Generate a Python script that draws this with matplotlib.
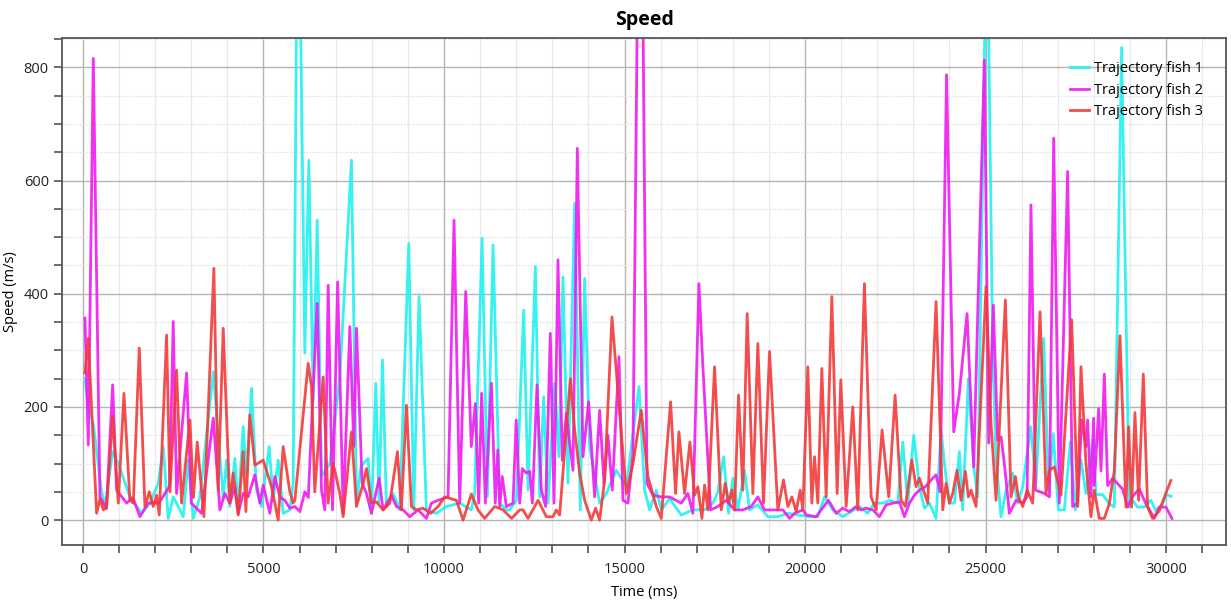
import matplotlib
matplotlib.use("Agg")
import matplotlib.pyplot as plt
from matplotlib.ticker import MultipleLocator

plt.rcParams['font.family'] = ['Open Sans', 'DejaVu Sans']

# fish 1 (cyan)
t1 = [55, 147, 286, 507, 609, 822, 978, 1300, 1624, 1855, 2085, 2223, 2362, 2500, 2593, 2777, 2915, 3054, 3239, 3608,
      3792, 3884, 3977, 4069, 4207, 4300, 4438, 4530, 4669, 4807, 4946, 5157, 5268, 5407, 5545, 5730, 5822, 5914, 6025,
      6145, 6256, 6376, 6487, 6607, 6838, 7114, 7437, 7576, 7700, 7897, 7991, 8110, 8202, 8295, 8405, 8590, 8774, 9024,
      9163, 9309, 9512, 9789, 10066, 10435, 10757, 10849, 11054, 11201, 11358, 11543, 11727, 11819, 12004, 12207,
      12327, 12530, 12650, 12760, 12880, 13065, 13185, 13296, 13434, 13619, 13775, 13895, 14034, 14311, 14495, 14772,
      15049, 15400, 15557, 15695, 15880, 16018, 16248, 16571, 16894, 17217, 17448, 17586, 17743, 17882, 18001, 18140,
      18324, 18463, 18693, 18970, 19247, 19524, 19801, 20124, 20354, 20539, 20770, 21046, 21277, 21507, 21738, 21922,
      22153, 22338, 22568, 22707, 22845, 23012, 23168, 23307, 23445, 23629, 23768, 23860, 24000, 24137, 24275, 24367,
      24525, 24672, 24783, 24986, 25079, 25198, 25290, 25429, 25568, 25752, 25891, 26030, 26249, 26395, 26609, 26748,
      26877, 27016, 27182, 27348, 27486, 27643, 27781, 27966, 28060, 28243, 28428, 28566, 28768, 28981, 29073, 29211,
      29396, 29581, 29719, 29904, 30015, 30135]
v1 = [250, 200, 171, 53, 24, 121, 100, 41, 12, 30, 65, 130, 3, 41, 30, 6, 106, 3, 41, 262,
      112, 41, 106, 24, 109, 18, 165, 83, 233, 53, 24, 130, 35, 106, 12, 18, 65, 900, 900,
      295, 636, 212, 530, 77, 100, 253, 636, 30, 95, 109, 12, 242, 30, 283, 24, 47, 18, 489,
      18, 395, 18, 12, 24, 30, 18, 47, 498, 41, 486, 30, 18, 18, 35, 371,
      53, 448, 41, 218, 30, 242, 112, 430, 65, 560, 18, 427, 130, 30, 47, 88,
      59, 236, 53, 18, 53, 18, 38, 9, 18, 18, 30, 50, 112, 12, 74, 18,
      88, 18, 27, 6, 6, 12, 9, 6, 6, 41, 18, 6, 15, 24, 12, 30,
      30, 35, 30, 138, 30, 150, 59, 21, 30, 3, 159, 100, 30, 30, 121, 18,
      250, 94, 41, 900, 900, 300, 106, 6, 53, 83, 30, 59, 165, 65, 321, 53,
      153, 18, 18, 138, 18, 106, 47, 141, 45, 45, 29, 23, 835, 23, 35, 23,
      23, 35, 16, 29, 45, 42]

# fish 2 (magenta)
t2 = [55, 147, 286, 470, 650, 822, 932, 1209, 1380, 1578, 1800, 2100, 2400, 2500, 2593, 2870, 3000, 3285, 3608,
      3792, 3931, 4069, 4207, 4300, 4438, 4576, 4761, 4900, 4992, 5176, 5315, 5453, 5591, 5730, 5869, 6007, 6145,
      6240, 6487, 6607, 6699, 6792, 6912, 7054, 7207, 7392, 7502, 7576, 7733, 7852, 7991, 8203, 8313, 8544, 8682,
      8867, 9051, 9282, 9512, 9651, 9835, 10112, 10278, 10435, 10602, 10757, 10868, 10960, 11044, 11145, 11312,
      11420, 11490, 11543, 11614, 11727, 11912, 12000, 12096, 12170, 12281, 12373, 12447, 12576, 12696, 12816,
      12945, 13047, 13157, 13277, 13388, 13480, 13573, 13693, 13849, 14006, 14172, 14311, 14431, 14541, 14661,
      14846, 14957, 15095, 15234, 15354, 15511, 15622, 15788, 16018, 16248, 16571, 16756, 16894, 17060, 17171,
      17384, 17586, 17817, 18048, 18278, 18509, 18693, 18878, 19155, 19386, 19570, 19709, 19940, 20031, 20308,
      20446, 20650, 20862, 21046, 21231, 21415, 21554, 21692, 21877, 22061, 22246, 22430, 22615, 22753, 22891,
      23030, 23168, 23334, 23537, 23629, 23740, 23920, 24118, 24275, 24487, 24672, 24967, 25087, 25216, 25336,
      25429, 25521, 25660, 25845, 26030, 26150, 26258, 26383, 26632, 26770, 26887, 27043, 27274, 27412, 27551,
      27661, 27781, 27827, 27919, 27993, 28012, 28133, 28198, 28290, 28382, 28520, 28705, 28797, 28935, 29073,
      29258, 29442, 29673, 29811, 29996, 30163]
v2 = [357, 133, 816, 41, 20, 239, 53, 30, 40, 6, 30, 30, 60, 351, 47, 260, 30, 12, 180,
      18, 47, 30, 59, 12, 47, 41, 80, 30, 62, 12, 77, 41, 35, 21, 24, 15, 50,
      40, 383, 53, 18, 415, 18, 421, 12, 342, 130, 339, 65, 47, 12, 74, 18, 44, 24,
      18, 6, 18, 3, 30, 35, 41, 530, 30, 404, 130, 206, 30, 224, 30, 242,
      30, 124, 24, 77, 24, 30, 177, 30, 91, 83, 86, 30, 239, 53, 24,
      330, 30, 460, 106, 189, 136, 88, 657, 112, 209, 41, 194, 65, 150, 53,
      289, 35, 30, 118, 900, 900, 65, 44, 41, 41, 30, 47, 12, 418, 271,
      18, 24, 35, 18, 18, 24, 41, 18, 18, 18, 3, 12, 18, 9, 6,
      18, 35, 12, 21, 15, 24, 18, 21, 18, 6, 27, 30, 32, 6, 30,
      44, 53, 59, 74, 80, 50, 787, 156, 224, 365, 94, 813, 136, 380, 141,
      147, 100, 12, 35, 30, 41, 557, 53, 47, 41, 675, 30, 616, 24, 30,
      177, 130, 177, 41, 180, 61, 197, 87, 258, 61, 74, 61, 55, 23, 42,
      55, 29, 3, 23, 23, 3]

# fish 3 (red)
t3 = [55, 147, 378, 470, 563, 655, 822, 978, 1135, 1300, 1394, 1559, 1716, 1836, 1946, 2039, 2113, 2316, 2408,
      2593, 2730, 2962, 3060, 3165, 3350, 3626, 3745, 3884, 4069, 4160, 4300, 4438, 4512, 4622, 4761, 4992, 5223,
      5407, 5545, 5730, 5822, 5869, 6238, 6330, 6420, 6653, 6790, 6930, 7114, 7207, 7437, 7576, 7762, 7853, 7991,
      8129, 8313, 8498, 8710, 8820, 8959, 9098, 9236, 9420, 9632, 9835, 10020, 10343, 10528, 10757, 10941, 11126,
      11404, 11635, 11874, 12097, 12188, 12327, 12607, 12834, 13018, 13110, 13203, 13499, 13619, 13757, 13895,
      14080, 14200, 14311, 14449, 14652, 14865, 15049, 15234, 15463, 15648, 15880, 16018, 16276, 16414, 16506,
      16663, 16811, 16940, 17033, 17143, 17217, 17310, 17494, 17679, 17790, 17882, 17974, 18048, 18158, 18278,
      18398, 18555, 18693, 18850, 19017, 19247, 19404, 19524, 19635, 19755, 19866, 19939, 20077, 20188, 20262,
      20354, 20465, 20585, 20742, 20890, 20990, 21139, 21322, 21461, 21645, 21830, 21969, 22134, 22319, 22495,
      22661, 22781, 22956, 23076, 23168, 23399, 23629, 23814, 23906, 24000, 24091, 24210, 24321, 24441, 24524,
      24598, 24736, 25013, 25151, 25290, 25549, 25706, 25826, 25909, 26030, 26150, 26306, 26509, 26675, 26767,
      26904, 27089, 27385, 27551, 27643, 27781, 27919, 28011, 28150, 28290, 28428, 28566, 28723, 28889, 28963,
      29046, 29138, 29240, 29370, 29489, 29627, 29811, 29996, 30135]
v3 = [260, 321, 12, 38, 18, 24, 183, 30, 224, 35, 30, 304, 24, 50, 24, 44, 9, 327, 50,
      265, 30, 177, 40, 138, 6, 445, 53, 339, 30, 83, 9, 121, 15, 186, 97, 106, 59,
      0, 130, 50, 30, 35, 277, 236, 50, 253, 30, 100, 47, 6, 156, 24, 65, 91, 30,
      32, 18, 30, 121, 18, 203, 24, 18, 21, 12, 24, 41, 35, 0, 46, 18, 3,
      24, 18, 3, 18, 18, 3, 35, 6, 6, 18, 9, 250, 159, 83, 35,
      0, 21, 0, 71, 359, 189, 47, 100, 194, 77, 24, 3, 209, 47, 156,
      47, 138, 44, 59, 3, 62, 18, 271, 18, 65, 30, 53, 18, 221, 53,
      365, 47, 312, 30, 298, 18, 71, 24, 41, 15, 53, 18, 271, 30, 112,
      30, 268, 41, 395, 47, 248, 24, 200, 18, 418, 41, 18, 159, 41, 221,
      35, 24, 106, 59, 74, 30, 386, 18, 65, 30, 47, 88, 35, 86, 41,
      53, 24, 413, 171, 35, 389, 41, 77, 41, 24, 53, 30, 368, 47, 88,
      94, 44, 354, 24, 271, 100, 6, 53, 3, 3, 29, 87, 326, 23, 165,
      23, 190, 35, 258, 23, 3, 16, 48, 70]

labels = ['Trajectory fish 1', 'Trajectory fish 2', 'Trajectory fish 3']
colors = ['#22f0f0', '#f01af0', '#f23a3a']

fig = plt.figure(figsize=(12.31, 6.07), dpi=100)
ax = fig.add_axes([62 / 1231, 62 / 607, 1164 / 1231, 507 / 607])

for t, v, lab, c in zip([t1, t2, t3], [v1, v2, v3], labels, colors):
    ax.plot(t, v, color=c, lw=2.0, alpha=0.9, label=lab, solid_joinstyle='round')

ax.set_xlim(-581, 31660)
ax.set_ylim(-44, 852)
ax.xaxis.set_major_locator(MultipleLocator(5000))
ax.xaxis.set_minor_locator(MultipleLocator(1000))
ax.yaxis.set_major_locator(MultipleLocator(200))
ax.yaxis.set_minor_locator(MultipleLocator(50))

ax.grid(True, which='major', color='#b4b4b4', lw=1.0)
ax.xaxis.grid(True, which='minor', color='#e8e8e8', lw=0.9)
ax.yaxis.grid(True, which='minor', color='#d6d6d6', lw=0.8, ls=':')
ax.set_axisbelow(True)

ax.tick_params(which='both', direction='out', length=6, width=1.1, color='#444444',
               labelsize=10.5, labelcolor='#222222')
ax.tick_params(axis='x', pad=6)
for s in ax.spines.values():
    s.set_color('#555555')
    s.set_linewidth(1.3)

ax.set_title('Speed', fontsize=14, fontweight='bold', pad=9)
ax.set_xlabel('Time (ms)', fontsize=10.5, labelpad=6)
ax.set_ylabel('Speed (m/s)', fontsize=10.5)

ax.legend(loc='upper right', frameon=False, fontsize=10.5, handlelength=1.3,
          handletextpad=0.3, labelspacing=0.45, borderaxespad=1.2)

fig.savefig('out.png', dpi=100)
